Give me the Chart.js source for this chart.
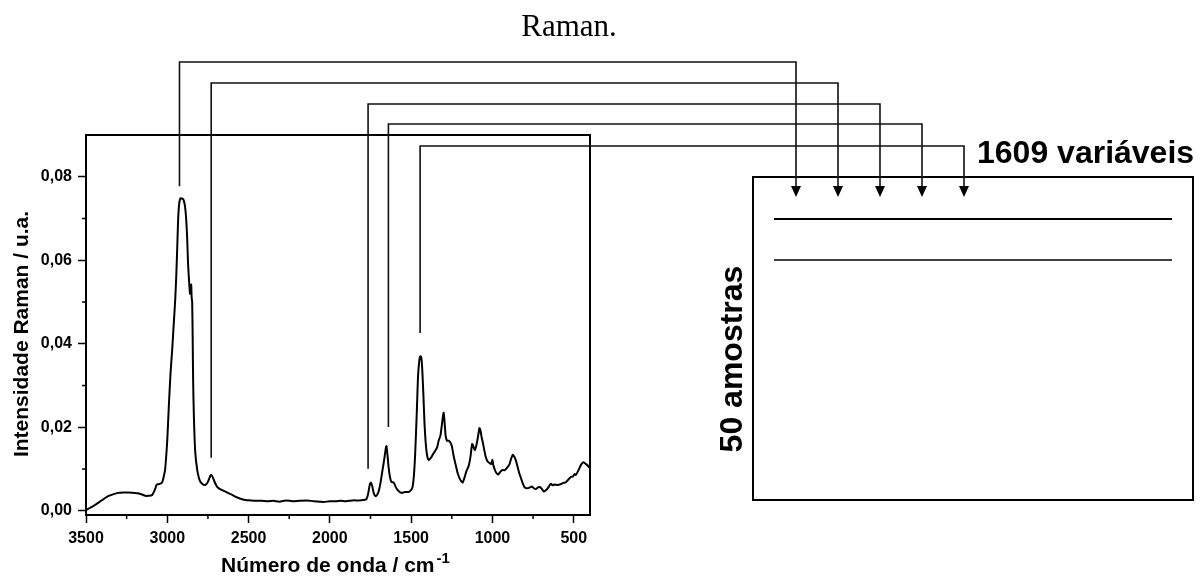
<!DOCTYPE html>
<html>
<head>
<meta charset="utf-8">
<script src="https://cdn.jsdelivr.net/npm/chart.js@4.4.1/dist/chart.umd.min.js"></script>
<style>
  html, body { margin: 0; padding: 0; background: #fff; }
  #wrap { width: 1202px; height: 578px; }
</style>
</head>
<body>
<div id="wrap"><canvas id="myChart" width="1202" height="578"></canvas></div>
<script>
// Raman spectrum (wavenumber in cm-1, intensity in a.u.)
var wavenumbers = [
    3500, 3470, 3445, 3400, 3364, 3330, 3303, 3270, 3241, 3210, 3180, 3155, 3136, 3115, 3093, 3075,
    3065, 3050, 3032, 3020, 3013, 3005, 3000, 2990, 2980, 2970, 2960, 2952, 2945, 2938, 2933, 2927,
    2920, 2910, 2902, 2895, 2890, 2884, 2878, 2872, 2866, 2860, 2856, 2853, 2850, 2847, 2844, 2841,
    2836, 2828, 2816, 2805, 2797, 2780, 2767, 2755, 2745, 2735, 2730, 2722, 2712, 2700, 2690, 2670,
    2643, 2610, 2582, 2550, 2520, 2490, 2459, 2420, 2380, 2348, 2310, 2270, 2230, 2190, 2138, 2100,
    2060, 2040, 2000, 1960, 1935, 1900, 1860, 1820, 1793, 1775, 1765, 1755, 1748, 1740, 1730, 1719,
    1710, 1701, 1690, 1676, 1665, 1656, 1652, 1646, 1639, 1630, 1621, 1608, 1596, 1584, 1570, 1553,
    1540, 1516, 1500, 1491, 1483, 1475, 1465, 1458, 1450, 1444, 1438, 1432, 1425, 1418, 1411, 1403,
    1393, 1380, 1368, 1350, 1340, 1331, 1320, 1313, 1305, 1300, 1295, 1288, 1280, 1270, 1260, 1250,
    1239, 1225, 1214, 1200, 1190, 1183, 1170, 1160, 1146, 1135, 1125, 1118, 1109, 1100, 1090, 1080,
    1075, 1066, 1060, 1050, 1042, 1030, 1020, 1008, 1000, 995, 985, 975, 965, 950, 937, 925,
    906, 895, 885, 875, 866, 857, 845, 835, 826, 813, 801, 785, 770, 757, 745, 734,
    720, 709, 695, 684, 670, 660, 650, 641, 630, 620, 598, 580, 565, 549, 535, 518,
    505, 495, 487, 470, 456, 445, 438, 425, 413, 405, 400
];
var intensity = [
    0.0002, 0.0008, 0.0014, 0.0026, 0.0035, 0.0040, 0.0043, 0.0044, 0.0044, 0.0043, 0.0042, 0.0039, 0.0036, 0.0036, 0.0038, 0.0052,
    0.0063, 0.0064, 0.0068, 0.0085, 0.0100, 0.0140, 0.0170, 0.0255, 0.0330, 0.0385, 0.0450, 0.0500, 0.0560, 0.0640, 0.0700, 0.0735,
    0.0748, 0.0748, 0.0746, 0.0738, 0.0726, 0.0700, 0.0656, 0.0590, 0.0550, 0.0520, 0.0535, 0.0542, 0.0510, 0.0500, 0.0420, 0.0310,
    0.0220, 0.0140, 0.0098, 0.0078, 0.0070, 0.0063, 0.0062, 0.0066, 0.0074, 0.0084, 0.0086, 0.0082, 0.0072, 0.0062, 0.0056, 0.0051,
    0.0046, 0.0040, 0.0034, 0.0029, 0.0026, 0.0025, 0.0024, 0.0024, 0.0023, 0.0024, 0.0022, 0.0025, 0.0023, 0.0024, 0.0025, 0.0023,
    0.0022, 0.0021, 0.0023, 0.0023, 0.0024, 0.0023, 0.0025, 0.0025, 0.0026, 0.0028, 0.0040, 0.0062, 0.0068, 0.0060, 0.0042, 0.0035,
    0.0038, 0.0045, 0.0064, 0.0098, 0.0125, 0.0150, 0.0155, 0.0135, 0.0105, 0.0080, 0.0069, 0.0068, 0.0058, 0.0050, 0.0045, 0.0043,
    0.0045, 0.0045, 0.0050, 0.0058, 0.0085, 0.0140, 0.0240, 0.0320, 0.0360, 0.0370, 0.0368, 0.0340, 0.0280, 0.0210, 0.0165, 0.0135,
    0.0122, 0.0126, 0.0134, 0.0145, 0.0152, 0.0168, 0.0180, 0.0200, 0.0225, 0.0235, 0.0215, 0.0180, 0.0168, 0.0168, 0.0164, 0.0155,
    0.0132, 0.0108, 0.0090, 0.0076, 0.0070, 0.0068, 0.0082, 0.0095, 0.0108, 0.0130, 0.0160, 0.0155, 0.0145, 0.0155, 0.0175, 0.0198,
    0.0195, 0.0175, 0.0165, 0.0145, 0.0130, 0.0118, 0.0115, 0.0112, 0.0122, 0.0110, 0.0098, 0.0090, 0.0087, 0.0094, 0.0098, 0.0097,
    0.0105, 0.0112, 0.0125, 0.0134, 0.0130, 0.0122, 0.0105, 0.0090, 0.0080, 0.0065, 0.0056, 0.0054, 0.0056, 0.0058, 0.0054, 0.0052,
    0.0056, 0.0057, 0.0052, 0.0046, 0.0050, 0.0054, 0.0060, 0.0065, 0.0061, 0.0063, 0.0062, 0.0064, 0.0067, 0.0068, 0.0074, 0.0081,
    0.0082, 0.0088, 0.0086, 0.0098, 0.0110, 0.0115, 0.0116, 0.0112, 0.0108, 0.0104, 0.0103
];

var xTicks = [3500, 3000, 2500, 2000, 1500, 1000, 500];
var xMinorTicks = [3250, 2750, 2250, 1750, 1250, 750];
var yTicks = [0, 0.02, 0.04, 0.06, 0.08];
var yMinorTicks = [0.01, 0.03, 0.05, 0.07];

// bands carried over to the data matrix, and where each guide line starts
var bandWavenumbers = [2925, 2730, 1765, 1640, 1445];
var bandLineStart = [0.0777, 0.0127, 0.0101, 0.0201, 0.0426];

var sans = '"Liberation Sans", Arial, sans-serif';

function line(ctx, x1, y1, x2, y2) {
    ctx.beginPath();
    ctx.moveTo(x1, y1);
    ctx.lineTo(x2, y2);
    ctx.stroke();
}

var extras = {
    id: 'extras',
    afterDraw: function (chart) {
        var ctx = chart.ctx, a = chart.chartArea;
        var xs = chart.scales.x, ys = chart.scales.y;
        ctx.save();
        ctx.strokeStyle = '#000';
        ctx.fillStyle = '#000';

        // top and right side of the frame
        ctx.lineWidth = 2;
        ctx.beginPath();
        ctx.moveTo(a.left - 1, a.top);
        ctx.lineTo(a.right, a.top);
        ctx.lineTo(a.right, a.bottom);
        ctx.stroke();

        // minor ticks
        ctx.lineWidth = 1.5;
        xMinorTicks.forEach(function (v) {
            var px = xs.getPixelForValue(v);
            line(ctx, px, a.bottom, px, a.bottom + 4);
        });
        yMinorTicks.forEach(function (v) {
            var py = ys.getPixelForValue(v);
            line(ctx, a.left - 4, py, a.left, py);
        });

        // data matrix box
        var box = { left: 753, top: 177, right: 1193, bottom: 500 };
        ctx.lineWidth = 2;
        ctx.strokeRect(box.left, box.top, box.right - box.left, box.bottom - box.top);
        line(ctx, box.left + 21, 219, box.right - 21, 219);
        ctx.lineWidth = 1.6;
        line(ctx, box.left + 21, 260, box.right - 21, 260);

        // guide lines from each band to a column of the matrix
        var levels = [62, 83, 104, 124, 146];
        ctx.lineWidth = 1.6;
        ctx.strokeStyle = '#111';
        bandWavenumbers.forEach(function (wn, i) {
            var x0 = xs.getPixelForValue(wn);
            var y0 = ys.getPixelForValue(bandLineStart[i]);
            var x1 = box.left + 43 + i * 42;
            var tip = box.top + 20;
            ctx.beginPath();
            ctx.moveTo(x0, y0);
            ctx.lineTo(x0, levels[i]);
            ctx.lineTo(x1, levels[i]);
            ctx.lineTo(x1, tip - 10);
            ctx.stroke();
            ctx.beginPath();
            ctx.moveTo(x1 - 5, tip - 11);
            ctx.lineTo(x1 + 5, tip - 11);
            ctx.lineTo(x1, tip);
            ctx.closePath();
            ctx.fill();
        });

        // texts
        ctx.fillStyle = '#000';
        ctx.textBaseline = 'alphabetic';

        ctx.font = '31px "Liberation Serif", "Times New Roman", serif';
        ctx.textAlign = 'center';
        ctx.fillText('Raman.', 569, 36);

        ctx.font = 'bold 32px ' + sans;
        ctx.textAlign = 'left';
        ctx.fillText('1609 variáveis', 977, 163);

        ctx.save();
        ctx.translate(742, 359);
        ctx.rotate(-Math.PI / 2);
        ctx.textAlign = 'center';
        ctx.fillText('50 amostras', 0, 0);
        ctx.restore();

        // axis titles
        ctx.font = 'bold 21px ' + sans;
        ctx.save();
        ctx.translate(28, 334);
        ctx.rotate(-Math.PI / 2);
        ctx.textAlign = 'center';
        ctx.fillText('Intensidade Raman / u.a.', 0, 0);
        ctx.restore();

        var main = 'Número de onda / cm';
        ctx.textAlign = 'left';
        ctx.fillText(main, 221, 572);
        var w = ctx.measureText(main).width;
        ctx.font = 'bold 15px ' + sans;
        ctx.fillText('-1', 221 + w + 2, 563);

        ctx.restore();
    }
};

var ctx = document.getElementById('myChart');
var myChart = new Chart(ctx, {
    type: 'line',
    data: {
        datasets: [{
            data: wavenumbers.map(function (wn, i) { return { x: wn, y: intensity[i] }; }),
            borderColor: '#000',
            borderWidth: 2,
            pointRadius: 0,
            tension: 0.2,
            fill: false
        }]
    },
    options: {
        responsive: false,
        animation: false,
        devicePixelRatio: 1,
        layout: { padding: { left: 0, top: 135, right: 612, bottom: 0 } },
        plugins: {
            legend: { display: false },
            tooltip: { enabled: false }
        },
        scales: {
            x: {
                type: 'linear',
                reverse: true,
                min: 400,
                max: 3500,
                afterBuildTicks: function (s) { s.ticks = xTicks.map(function (v) { return { value: v }; }); },
                afterFit: function (s) { s.height = 63; },
                grid: { drawOnChartArea: false, drawTicks: true, tickLength: 8, tickWidth: 1.5, tickColor: '#000' },
                border: { display: true, color: '#000', width: 2 },
                ticks: {
                    color: '#000',
                    padding: 6,
                    maxRotation: 0,
                    font: { family: sans, size: 16, weight: 'bold' },
                    callback: function (v) { return String(v); }
                }
            },
            y: {
                type: 'linear',
                min: -0.001,
                max: 0.09,
                afterBuildTicks: function (s) { s.ticks = yTicks.map(function (v) { return { value: v }; }); },
                afterFit: function (s) { s.width = 86; },
                grid: { drawOnChartArea: false, drawTicks: true, tickLength: 8, tickWidth: 1.5, tickColor: '#000' },
                border: { display: true, color: '#000', width: 2 },
                ticks: {
                    color: '#000',
                    padding: 6,
                    font: { family: sans, size: 16, weight: 'bold' },
                    callback: function (v) { return v.toFixed(2).replace('.', ','); }
                }
            }
        }
    },
    plugins: [extras]
});
</script>
</body>
</html>
